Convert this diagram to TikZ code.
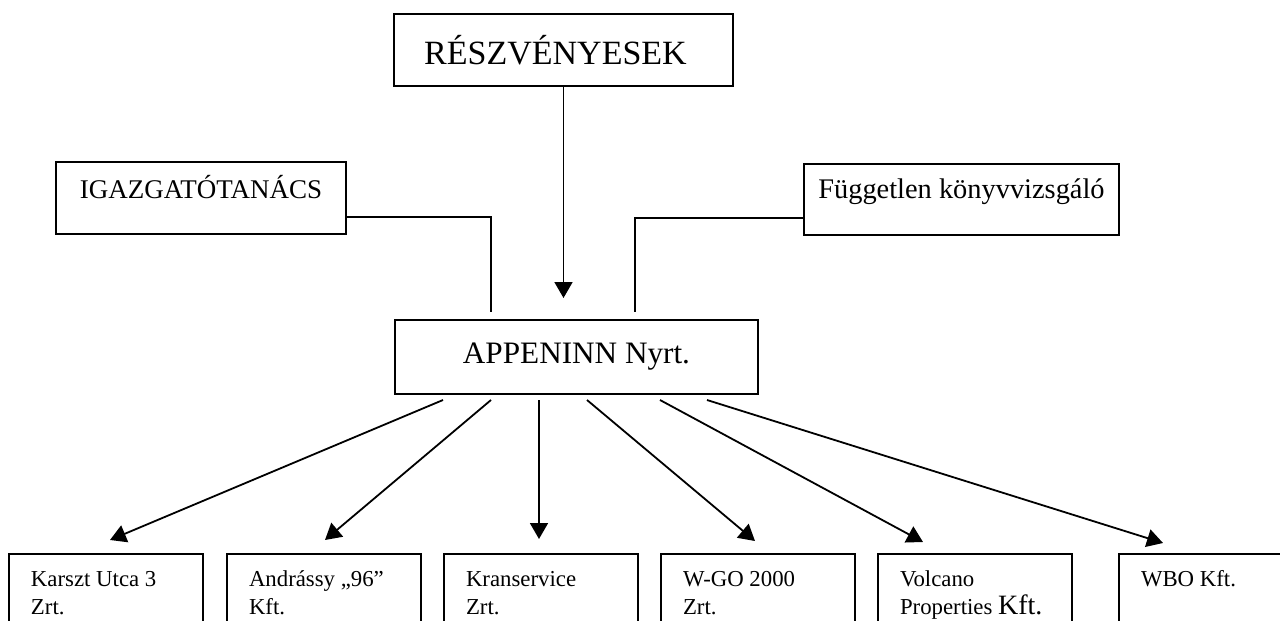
\documentclass[tikz,border=0pt]{standalone}
\usepackage{fontspec}
\setmainfont{Liberation Serif}
\usetikzlibrary{arrows.meta}

\begin{document}
\begin{tikzpicture}[x=0.5pt, y=-0.5pt,
    box/.style={draw, line width=1pt, inner sep=0pt, anchor=north west},
    subbox/.style={box, minimum width=97pt, minimum height=63.5pt, inner xsep=11pt,
      text width=75pt, align=flush left, text height=16pt, text depth=47.5pt,
      font=\fontsize{11.4}{14}\selectfont},
    link/.style={line width=0.9pt},
    arr/.style={link, -{Triangle[length=8pt,width=9pt]}}]
  \clip (0,0) rectangle (1280,621);

  % Owners, board and auditor
  \node[box, minimum width=169.5pt, minimum height=36pt, text height=25pt, text depth=11pt,
    font=\fontsize{17}{20}\selectfont] (resz) at (393,13) {RÉSZVÉNYESEK\hspace*{8pt}};
  \node[box, minimum width=145pt, minimum height=36pt, text height=18pt, text depth=18pt,
    font=\fontsize{13.5}{16}\selectfont] (igaz) at (55,161) {IGAZGATÓTANÁCS};
  \node[box, minimum width=157.5pt, minimum height=35.5pt, text height=17pt, text depth=18.5pt,
    font=\fontsize{14.2}{17}\selectfont] (fugg) at (803,163) {Független könyvvizsgáló};

  % Parent company
  \node[box, minimum width=181.5pt, minimum height=37pt, text height=21.5pt, text depth=15.5pt,
    font=\fontsize{15.6}{18}\selectfont] (app) at (394,319) {APPENINN Nyrt.};

  % Subsidiaries
  \node[subbox] (karszt) at (8,553) {Karszt Utca 3\\Zrt.};
  \node[subbox] (andr) at (226,553) {Andrássy „96”\\Kft.};
  \node[subbox] (kran) at (443,553) {Kranservice\\Zrt.};
  \node[subbox] (wgo) at (660,553) {W-GO 2000\\Zrt.};
  \node[subbox] (volc) at (877,553) {Volcano\\Properties {\fontsize{14}{14}\selectfont Kft.}};
  \node[subbox] (wbo) at (1118,553) {WBO Kft.};

  \draw[arr, shorten >=10.5pt] (resz.south) -- (resz.south |- app.north);
  \draw[link] ([yshift=9pt]igaz.south east) -| ([xshift=48.5pt,yshift=3.5pt]app.north west);
  \draw[link] ([yshift=9pt]fugg.south west) -| ([xshift=120.5pt,yshift=3.5pt]app.north west);

  \draw[arr] ([xshift=24.5pt,yshift=-2.5pt]app.south west) -- ([xshift=51pt,yshift=6.5pt]karszt.north west);
  \draw[arr] ([xshift=48.5pt,yshift=-2.5pt]app.south west) -- ([xshift=49.5pt,yshift=6.5pt]andr.north west);
  \draw[arr] ([xshift=72.5pt,yshift=-2.5pt]app.south west) -- ([xshift=48pt,yshift=7pt]kran.north west);
  \draw[arr] ([xshift=96.5pt,yshift=-2.5pt]app.south west) -- ([xshift=47.5pt,yshift=6pt]wgo.north west);
  \draw[arr] ([xshift=133pt,yshift=-2.5pt]app.south west) -- ([xshift=23pt,yshift=5.5pt]volc.north west);
  \draw[arr] ([xshift=156.5pt,yshift=-2.5pt]app.south west) -- ([xshift=22.5pt,yshift=5pt]wbo.north west);
\end{tikzpicture}
\end{document}
